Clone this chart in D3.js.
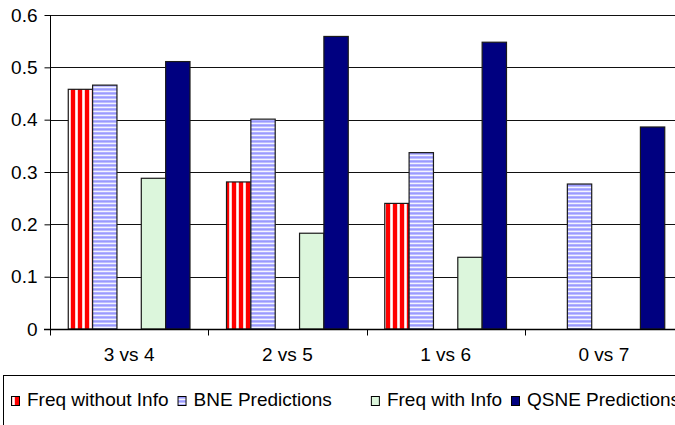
<!DOCTYPE html>
<html>
<head>
<meta charset="utf-8">
<style>
  body { margin: 0; background: #fff; }
  text { font-family: "Liberation Sans", Arial, sans-serif; font-size: 19px; fill: #000; }
</style>
</head>
<body>
<svg id="container" width="675" height="425"></svg>
<script src="https://cdn.jsdelivr.net/npm/d3@7"></script>
<script>
  // data
  let categories = ["3 vs 4", "2 vs 5", "1 vs 6", "0 vs 7"]
  let seriesNames = ["Freq without Info", "BNE Predictions", "", "Freq with Info", "QSNE Predictions"]
  let freqWithout = [0.458, 0.281, 0.240, null]
  let bnePred = [0.466, 0.401, 0.337, 0.277]
  let blankSeries = [null, null, null, null]
  let freqWith = [0.288, 0.183, 0.137, null]
  let qsnePred = [0.511, 0.559, 0.548, 0.386]
  let yTicks = [0, 0.1, 0.2, 0.3, 0.4, 0.5, 0.6]

  let seriesValues = [freqWithout, bnePred, blankSeries, freqWith, qsnePred]
  let fills = ["url(#redStripes)", "url(#blueStripes)", "none", "#dcf6dc", "#000080"]

  let svg = d3.select("#container")

  // patterns for the striped bars
  let defs = svg.append("defs")
  let red = defs.append("pattern").attr("id", "redStripes")
      .attr("patternUnits", "userSpaceOnUse").attr("width", 7).attr("height", 7)
  red.append("rect").attr("width", 7).attr("height", 7).attr("fill", "#fff")
  red.append("rect").attr("x", 0.5).attr("width", 5).attr("height", 7).attr("fill", "#ffa0a0")
  red.append("rect").attr("x", 1).attr("width", 4).attr("height", 7).attr("fill", "#ff0000")

  let blue = defs.append("pattern").attr("id", "blueStripes")
      .attr("patternUnits", "userSpaceOnUse").attr("width", 4).attr("height", 4)
  blue.append("rect").attr("width", 4).attr("height", 4).attr("fill", "#f4f4ff")
  blue.append("rect").attr("y", 0).attr("width", 4).attr("height", 2.8).attr("fill", "#c4c4ff")
  blue.append("rect").attr("y", 0.5).attr("width", 4).attr("height", 1.8).attr("fill", "#9a9aff")

  // scales
  let x0 = d3.scaleBand().domain(categories).range([50, 683])
  let bw = x0.bandwidth()
  let barW = bw / 6.5
  let x1 = d3.scaleBand().domain(d3.range(seriesNames.length))
      .range([barW * 0.75, bw - barW * 0.75])
  let y = d3.scaleLinear().domain([0, 0.6]).range([329, 15])

  // gridlines
  svg.append("g").selectAll("line").data(yTicks.filter(t => t > 0))
    .enter().append("line")
    .attr("x1", 50).attr("x2", 683)
    .attr("y1", d => Math.round(y(d)) + 0.5).attr("y2", d => Math.round(y(d)) + 0.5)
    .attr("stroke", "#111").attr("stroke-width", 1.2)

  // bars
  let groups = svg.append("g").selectAll("g").data(seriesValues)
    .enter().append("g")
  groups.each(function(vals, si) {
    d3.select(this).selectAll("rect")
      .data(vals.map((v, ci) => ({ v: v, c: categories[ci] })).filter(d => d.v != null))
      .enter().append("rect")
      .attr("x", d => x0(d.c) + x1(si))
      .attr("y", d => y(d.v))
      .attr("width", x1.bandwidth())
      .attr("height", d => y(0) - y(d.v))
      .attr("fill", fills[si])
      .attr("stroke", "#1a1a1a").attr("stroke-width", 1.2)
  })

  // y axis
  let yAxis = d3.axisLeft(y).tickValues(yTicks).tickSize(6).tickPadding(7)
      .tickFormat(d => d === 0 ? "0" : d3.format(".1f")(d))
  let ya = svg.append("g").attr("transform", "translate(50.5,0)").call(yAxis)
  ya.select(".domain").attr("d", "M0,15V334").attr("stroke", "#000")
  ya.selectAll("text").style("font-size", "19px").style("font-family", "Liberation Sans, Arial, sans-serif")
    .attr("fill", "#000")

  // x axis
  let xa = svg.append("g").attr("transform", "translate(0," + (y(0) + 0.5) + ")")
  xa.append("line").attr("x1", 44).attr("x2", 683).attr("stroke", "#000").attr("stroke-width", 1.5)
  xa.selectAll(".tk").data(categories).enter().append("line").attr("class", "tk")
    .attr("x1", d => Math.round(x0(d)) + 0.5).attr("x2", d => Math.round(x0(d)) + 0.5)
    .attr("y1", 0).attr("y2", 6).attr("stroke", "#000")
  xa.selectAll("text").data(categories).enter().append("text")
    .attr("x", d => x0(d) + bw / 2).attr("y", 31)
    .attr("text-anchor", "middle").text(d => d)

  // legend (runs off the right edge, as in the original)
  let legend = svg.append("g")
  legend.append("rect").attr("x", 3.5).attr("y", 375.5).attr("width", 700).attr("height", 80)
    .attr("fill", "none").attr("stroke", "#000")
  let lx = 11
  seriesNames.forEach((name, i) => {
    if (fills[i] !== "none") {
      legend.append("rect").attr("x", lx + 0.5).attr("y", 396.5).attr("width", 8).attr("height", 9)
        .attr("fill", fills[i]).attr("stroke", "#000")
    }
    let t = legend.append("text").attr("x", lx + 16).attr("y", 406).text(name)
    let w = name ? t.node().getComputedTextLength() : 0
    lx = lx + 16 + w + (name ? 9 : 14)
  })
</script>
</body>
</html>
